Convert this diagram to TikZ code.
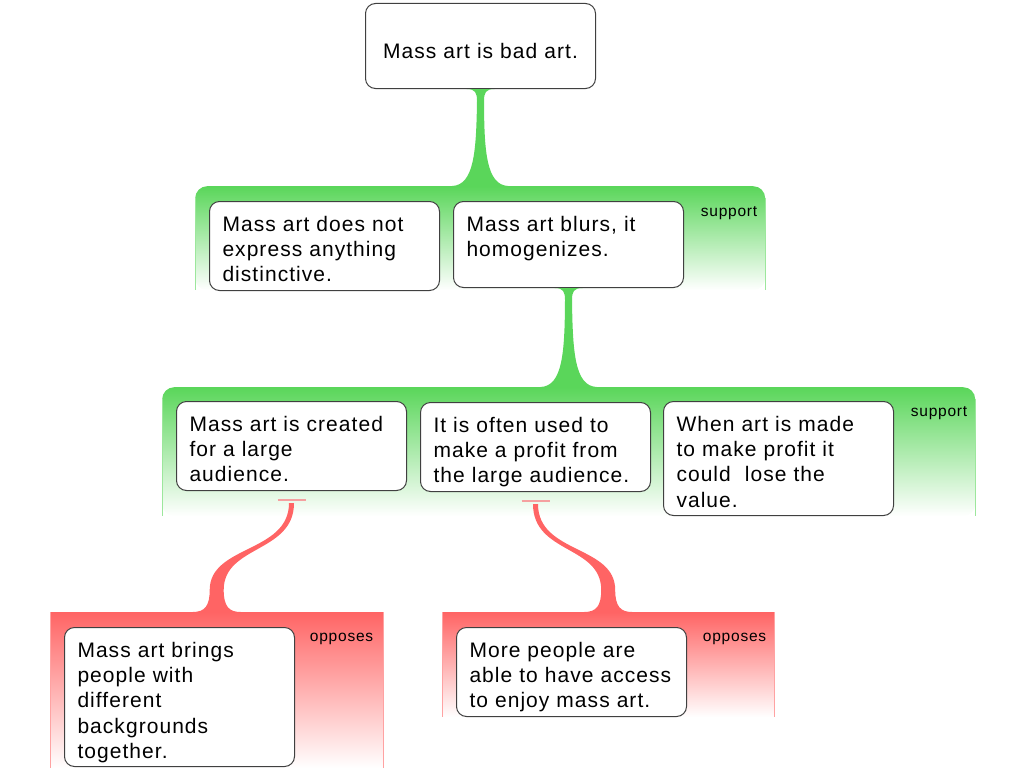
\documentclass[tikz,border=0pt]{standalone}
\usepackage{fontspec}
\setmainfont{Liberation Sans}[LetterSpace=5]
\usetikzlibrary{calc}
\definecolor{supgreen}{RGB}{90,214,90}
\definecolor{oppred}{RGB}{255,100,100}
\definecolor{oppmarkred}{RGB}{245,160,160}
\tikzset{
  argbox/.style={draw=black!75, fill=white, rounded corners=10pt, line width=1pt,
    inner sep=0pt, inner xsep=13pt, text width=204pt, align=left, anchor=north west,
    text height=29.5pt, font=\fontsize{21}{25.4}\selectfont},
  supgroup/.style={top color=supgreen, bottom color=white, rounded corners=12pt,
    inner sep=0pt, anchor=north west},
  oppgroup/.style={top color=oppred, bottom color=white, inner sep=0pt, anchor=north west},
  grouplabel/.style={font=\fontsize{15.5}{17}\selectfont, inner sep=0pt, anchor=base east},
  oppmark/.style={draw=oppmarkred, line width=1.5pt},
}
% tapered green link from a claim down to its group
\newcommand\supportlink[2]{%
  \fill[supgreen] ($(#1)+(-14,0)$) .. controls ($(#1)+(-5,0)$) and ($(#1)+(-3.5,4)$) .. ($(#1)+(-3.5,12)$)
    .. controls ($(#2)+(-4,-35)$) and ($(#2)+(-6,-1)$) .. ($(#2)+(-28,0)$)
    -- ($(#2)+(28,0)$)
    .. controls ($(#2)+(6,-1)$) and ($(#2)+(4,-35)$) .. ($(#1)+(3.5,12)$)
    .. controls ($(#1)+(3.5,4)$) and ($(#1)+(5,0)$) .. ($(#1)+(14,0)$) -- cycle;}
% s-shaped red link with the small mark under the claim
\newcommand\opposelink[2]{%
  \draw[oppmark] ($(#1)+(-14,9)$) -- ($(#1)+(14,9)$);
  \fill[oppred] ($(#1)+(2.5,12)$) .. controls ($(#1)+(2.5,62)$) and ($(#2)+(7,-67)$) .. ($(#2)+(7,-22)$)
    .. controls ($(#2)+(7,-6)$) and ($(#2)+(12,0)$) .. ($(#2)+(24,0)$)
    -- ($(#2)+(-24,0)$)
    .. controls ($(#2)+(-12,0)$) and ($(#2)+(-7,-6)$) .. ($(#2)+(-7,-22)$)
    .. controls ($(#2)+(-7,-67)$) and ($(#1)+(-2.5,62)$) .. ($(#1)+(-2.5,12)$) -- cycle;}

\begin{document}
\begin{tikzpicture}[x=1pt, y=-1pt]
  \useasboundingbox (0,0) rectangle (1024,768);
  % groups
  \node[supgroup, minimum width=570pt, minimum height=104pt] (g1) at (195,186) {};
  \node[supgroup, minimum width=813pt, minimum height=129pt] (g2) at (162,387) {};
  \node[oppgroup, minimum width=333pt, minimum height=156pt] (r1) at (50,612) {};
  \node[oppgroup, minimum width=332pt, minimum height=105pt] (r2) at (442,612) {};
  \foreach \g in {g1,g2}{
    \draw[supgreen!60] ($(\g.north west)+(0,12)$) -- (\g.south west);
    \draw[supgreen!60] ($(\g.north east)+(0,12)$) -- (\g.south east);
  }
  \foreach \g in {r1,r2}{
    \draw[oppred!60] (\g.north west) -- (\g.south west);
    \draw[oppred!60] (\g.north east) -- (\g.south east);
  }
  \node[grouplabel] (l1) at ($(g1.north east)+(-8,30)$) {support};
  \node[grouplabel] (l2) at ($(g2.north east)+(-8,29)$) {support};
  \node[grouplabel] (l3) at ($(r1.north east)+(-10,29)$) {opposes};
  \node[grouplabel] (l4) at ($(r2.north east)+(-8,29)$) {opposes};
  % claims
  \node[argbox, align=center, text height=55pt, text depth=30pt] (top) at (365,3) {Mass art is bad art.};
  \node[argbox, text depth=59.5pt] (n1) at (209,201) {Mass art does not\\express anything\\distinctive.};
  \node[argbox, text depth=56.5pt] (n2) at (453,201) {Mass art blurs, it\\homogenizes.};
  \node[argbox, text depth=59.5pt] (n3) at (176,401) {Mass art is created\\for a large\\audience.};
  \node[argbox, text depth=59.5pt] (n4) at (420,402) {It is often used to\\make a profit from\\the large audience.};
  \node[argbox, text depth=84.5pt] (n5) at (663,401) {When art is made\\to make profit it\\could~~lose the\\value.};
  \node[argbox, text depth=109.5pt] (n6) at (64,627) {Mass art brings\\people with\\different\\backgrounds\\together.};
  \node[argbox, text depth=59.5pt] (n7) at (456,627) {More people are\\able to have access\\to enjoy mass art.};
  % links
  \supportlink{top.south}{g1.north}
  \supportlink{n2.south}{g2.north}
  \opposelink{n3.south}{r1.north}
  \opposelink{n4.south}{r2.north}
\end{tikzpicture}
\end{document}
